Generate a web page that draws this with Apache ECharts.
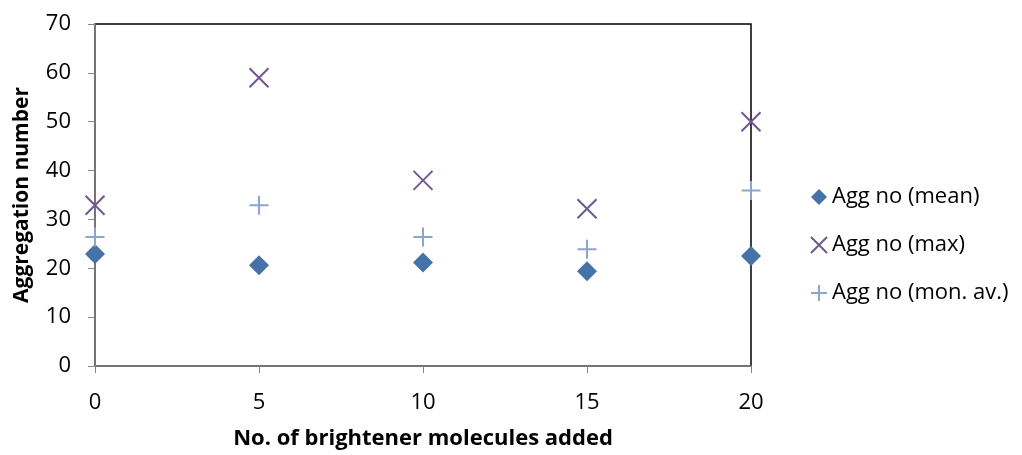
<!DOCTYPE html>
<html lang="en">
<head>
    <meta charset="UTF-8">
    <title>Aggregation number</title>
    <script src="https://cdn.jsdelivr.net/npm/echarts@6/dist/echarts.min.js"></script>
</head>
<body style="margin:0">
    <div id="main" style="width:1022px; height:455px"></div>
    <script type="text/javascript">
        // data
        var xValues = [0, 5, 10, 15, 20];
        var aggMean = [22.9, 20.6, 21.2, 19.4, 22.5];
        var aggMax = [32.9, 59.0, 38.0, 32.2, 50.0];
        var aggMon = [26.4, 32.9, 26.4, 23.9, 35.9];

        function pairs(vals) {
            return xValues.map(function (x, i) { return [x, vals[i]]; });
        }

        var font = '"Open Sans", "Liberation Sans", sans-serif';
        var crossPath = 'path://M0,0L10,10M10,0L0,10';
        var plusPath = 'path://M5,0L5,10M0,5L10,5';

        var myChart = echarts.init(document.getElementById('main'));

        var option = {
            animation: false,
            textStyle: { fontFamily: font, color: '#000' },
            grid: {
                left: 95, top: 24, right: 271, bottom: 88,
                show: true, borderColor: '#000', borderWidth: 1.5
            },
            xAxis: {
                type: 'value',
                min: 0, max: 20, interval: 5,
                name: 'No. of brightener molecules added',
                nameLocation: 'middle',
                nameGap: 62,
                nameTextStyle: { fontSize: 22, fontWeight: 'bold', color: '#000', fontFamily: font },
                axisLine: { lineStyle: { color: '#868686', width: 1.5 } },
                axisTick: { show: true, length: 7, lineStyle: { color: '#868686' } },
                axisLabel: { fontSize: 22, color: '#000', margin: 26, fontFamily: font },
                splitLine: { show: false }
            },
            yAxis: {
                type: 'value',
                min: 0, max: 70, interval: 10,
                name: 'Aggregation number',
                nameLocation: 'middle',
                nameGap: 62,
                nameTextStyle: { fontSize: 21, fontWeight: 'bold', color: '#000', fontFamily: font },
                axisLine: { show: true, lineStyle: { color: '#868686', width: 1.5 } },
                axisTick: { show: true, length: 7, lineStyle: { color: '#868686' } },
                axisLabel: { fontSize: 22, color: '#000', margin: 24, fontFamily: font },
                splitLine: { show: false }
            },
            legend: {
                orient: 'vertical',
                left: 805,
                top: 181,
                itemGap: 26,
                itemWidth: 16,
                itemHeight: 16,
                textStyle: { fontSize: 22, color: '#000', fontFamily: font }
            },
            series: [{
                name: 'Agg no (mean)',
                type: 'scatter',
                symbol: 'diamond',
                symbolSize: 20,
                itemStyle: { color: '#4572A7', opacity: 1 },
                data: pairs(aggMean)
            }, {
                name: 'Agg no (max)',
                type: 'scatter',
                symbol: crossPath,
                symbolSize: 19,
                itemStyle: { color: 'transparent', borderColor: '#71588F', borderWidth: 2, opacity: 1 },
                data: pairs(aggMax)
            }, {
                name: 'Agg no (mon. av.)',
                type: 'scatter',
                symbol: plusPath,
                symbolSize: 19,
                itemStyle: { color: 'transparent', borderColor: '#8EA5CB', borderWidth: 2, opacity: 1 },
                data: pairs(aggMon)
            }]
        };
        myChart.setOption(option);
    </script>
</body>
</html>
